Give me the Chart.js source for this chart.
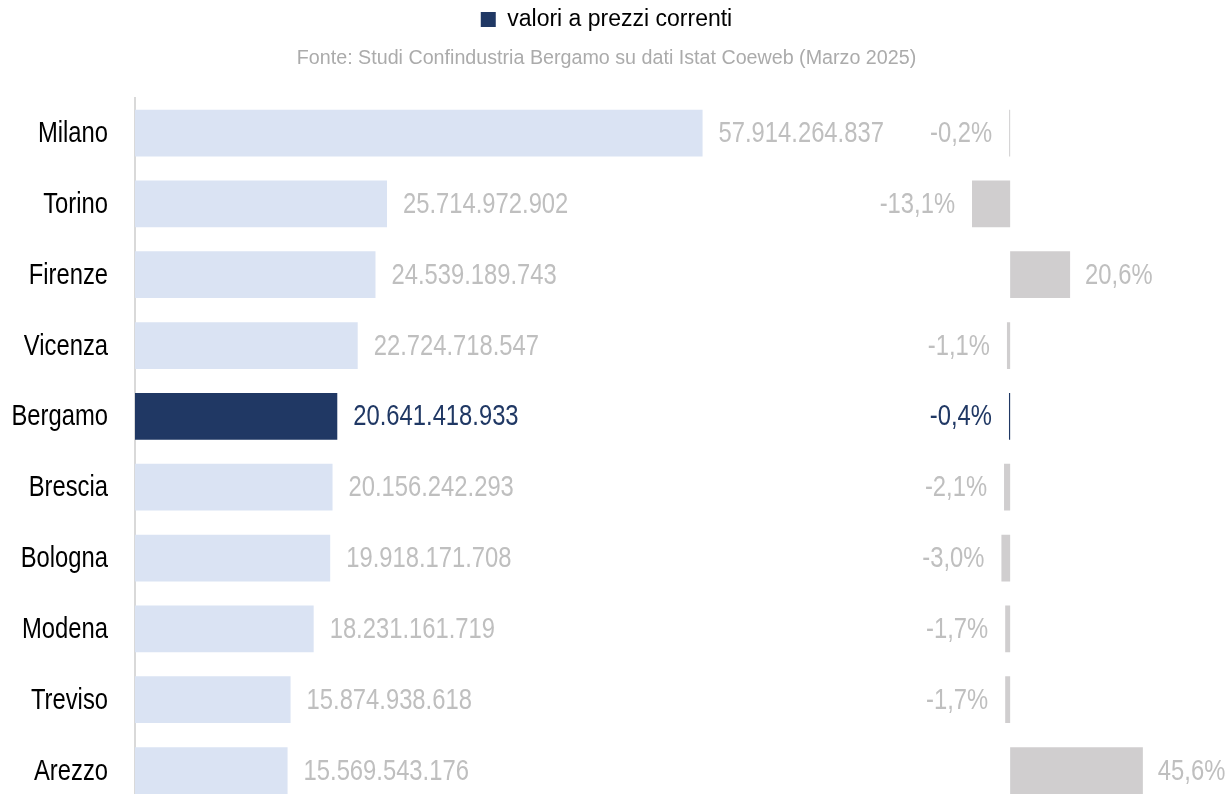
<!DOCTYPE html>
<html>
<head>
<meta charset="utf-8">
<script src="https://cdn.jsdelivr.net/npm/chart.js@4"></script>
<style>
  html, body { margin: 0; padding: 0; background: #fff; overflow: hidden; }
  canvas { display: block; }
</style>
</head>
<body>
<canvas id="chart" width="1229" height="806"></canvas>
<script>
// data
const cities = ["Milano", "Torino", "Firenze", "Vicenza", "Bergamo", "Brescia", "Bologna", "Modena", "Treviso", "Arezzo"];
const exportValues = [57914264837, 25714972902, 24539189743, 22724718547, 20641418933, 20156242293, 19918171708, 18231161719, 15874938618, 15569543176];
const changePct = [-0.2, -13.1, 20.6, -1.1, -0.4, -2.1, -3.0, -1.7, -1.7, 45.6];
const highlightCity = "Bergamo";

const FONT = '"Liberation Sans", Arial, sans-serif';
const NAVY = "#203864";
const LIGHT = "#dae3f3";
const GREY_BAR = "#d0cecf";
const GREY_TXT = "#bfbfbf";
const NARROW = 0.82; // no narrow face installed, so squeeze the text horizontally
const hi = cities.indexOf(highlightCity);

const fmtValue = v => String(v).replace(/\B(?=(\d{3})+(?!\d))/g, ".");
const fmtPct = v => v.toFixed(1).replace(".", ",") + "%";

function narrowText(ctx, text, x, y, align) {
    ctx.save();
    ctx.translate(x, y + 1);
    ctx.scale(NARROW, 1);
    ctx.textAlign = align;
    ctx.fillText(text, 0, 0);
    ctx.restore();
}

// category names and labels next to the bars
const barLabels = {
    id: "barLabels",
    afterDatasetsDraw(chart) {
        const ctx = chart.ctx;
        const yScale = chart.scales.y;
        ctx.save();
        ctx.font = "29px " + FONT;
        ctx.textBaseline = "middle";

        ctx.fillStyle = "#000";
        cities.forEach((c, i) => {
            narrowText(ctx, c, chart.chartArea.left - 27, yScale.getPixelForValue(i), "right");
        });

        chart.getDatasetMeta(0).data.forEach((bar, i) => {
            ctx.fillStyle = i === hi ? NAVY : GREY_TXT;
            narrowText(ctx, fmtValue(exportValues[i]), bar.x + 16, bar.y, "left");
        });
        chart.getDatasetMeta(1).data.forEach((bar, i) => {
            ctx.fillStyle = i === hi ? NAVY : GREY_TXT;
            const v = changePct[i];
            if (v < 0) narrowText(ctx, fmtPct(v), bar.x - 17, bar.y, "right");
            else narrowText(ctx, fmtPct(v), bar.x + 15, bar.y, "left");
        });
        ctx.restore();
    }
};

new Chart(document.getElementById("chart"), {
    type: "bar",
    data: {
        labels: cities,
        datasets: [{
            label: "valori a prezzi correnti",
            data: exportValues,
            xAxisID: "x",
            backgroundColor: cities.map((c, i) => i === hi ? NAVY : LIGHT),
            borderWidth: 0,
            grouped: false,
            barPercentage: 0.66,
            categoryPercentage: 1
        }, {
            label: "var. %",
            data: changePct,
            xAxisID: "x2",
            backgroundColor: cities.map((c, i) => i === hi ? NAVY : GREY_BAR),
            borderWidth: 0,
            minBarLength: 1,
            grouped: false,
            barPercentage: 0.66,
            categoryPercentage: 1
        }]
    },
    options: {
        indexAxis: "y",
        responsive: false,
        animation: false,
        layout: { padding: { left: 0, right: 16, top: 0, bottom: 0 } },
        scales: {
            y: {
                grid: { display: false, drawTicks: false },
                border: { display: true, color: "#d9d9d9", width: 2 },
                ticks: { display: false },
                afterFit: s => { s.width = 135; }
            },
            x: { display: false, min: 0, max: 110.0e9 },
            x2: { display: false, min: -300.7, max: 69.7 }
        },
        plugins: {
            tooltip: { enabled: false },
            legend: {
                position: "top",
                labels: {
                    padding: 8,
                    boxWidth: 15,
                    boxHeight: 15,
                    color: "#000",
                    font: { family: FONT, size: 23 },
                    generateLabels: () => [{
                        text: "valori a prezzi correnti",
                        fillStyle: NAVY,
                        strokeStyle: NAVY,
                        lineWidth: 0,
                        datasetIndex: 0
                    }]
                }
            },
            subtitle: {
                display: true,
                weight: 500,
                text: "Fonte: Studi Confindustria Bergamo su dati Istat Coeweb (Marzo 2025)",
                color: "#ababab",
                font: { family: FONT, size: 19.7, weight: "normal" },
                padding: { top: 6, bottom: 27 }
            }
        }
    },
    plugins: [barLabels]
});
</script>
</body>
</html>
